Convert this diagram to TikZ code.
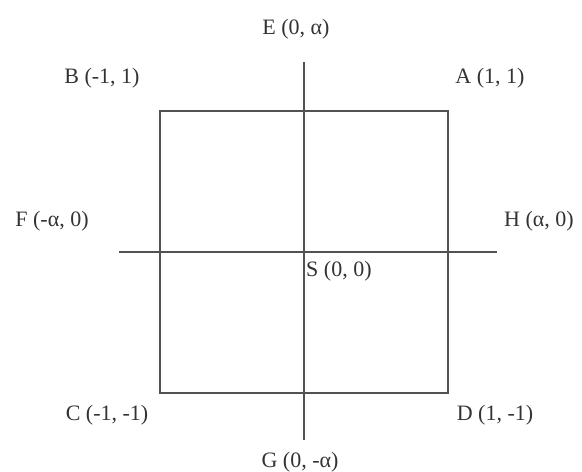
\documentclass[tikz,border=0pt]{standalone}
\usepackage{fontspec}
\setmainfont{Liberation Serif}
\usetikzlibrary{positioning}

\begin{document}
\begin{tikzpicture}[x=1pt,y=-1pt,line join=miter,
    axis/.style={line width=2pt,draw=black!68},
    lbl/.style={inner sep=0pt,text=black!80,font=\fontsize{22}{26}\selectfont}]
  \useasboundingbox (0,0) rectangle (582,472);
  % corners of the square
  \coordinate (A) at (448,111);
  \coordinate (B) at (160,111);
  \coordinate (C) at (160,393);
  \coordinate (D) at (448,393);
  % ends of the two axes
  \coordinate (E) at (304,62);
  \coordinate (G) at (304,440);
  \coordinate (F) at (119,252);
  \coordinate (H) at (497,252);
  \coordinate (S) at (304,252);
  \draw[axis] (A)--(B)--(C)--(D)--cycle;
  \draw[axis] (E)--(G);
  \draw[axis] (F)--(H);
  % labels
  \node[lbl] (lE) at (296,29) {E (0, α)};
  \node[lbl] (lB) at (102,78) {B (-1, 1)};
  \node[lbl] (lA) at (490,78) {A (1, 1)};
  \node[lbl] (lF) at (52,221) {F (-α, 0)};
  \node[lbl] (lH) at (539,221) {H (α, 0)};
  \node[lbl,anchor=west] (lS) at (306,271) {S (0, 0)};
  \node[lbl] (lC) at (107,415) {C (-1, -1)};
  \node[lbl] (lD) at (495,415) {D (1, -1)};
  \node[lbl] (lG) at (300,462) {G (0, -α)};
\end{tikzpicture}
\end{document}
